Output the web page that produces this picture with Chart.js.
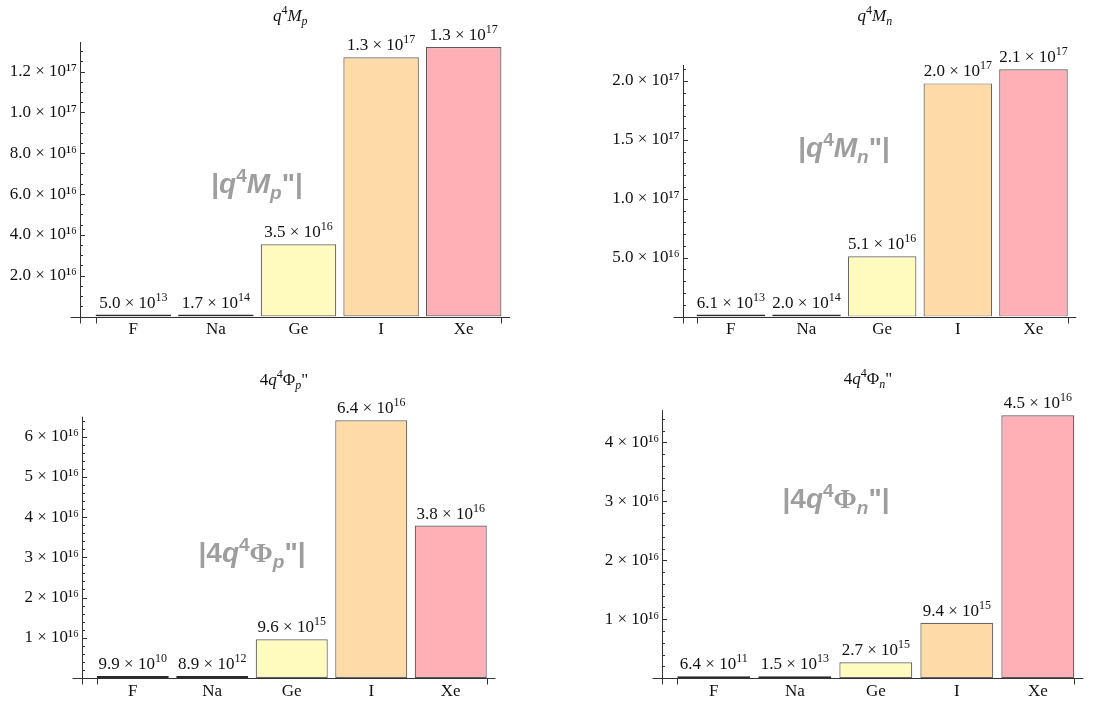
<!DOCTYPE html>
<html>
<head>
<meta charset="utf-8">
<script src="https://cdn.jsdelivr.net/npm/chart.js@4.4.1/dist/chart.umd.min.js"></script>
<style>
  body { margin: 0; background: #fff; width: 1097px; height: 705px; position: relative; overflow: hidden; }
  canvas { position: absolute; }
</style>
</head>
<body>
<canvas id="c1" width="548" height="345" style="left:0;top:0"></canvas>
<canvas id="c2" width="549" height="345" style="left:548px;top:0"></canvas>
<canvas id="c3" width="548" height="360" style="left:0;top:345px"></canvas>
<canvas id="c4" width="549" height="360" style="left:548px;top:345px"></canvas>
<script>
// data
const elements = ['F', 'Na', 'Ge', 'I', 'Xe'];

const mpValues   = [5.0e13, 1.7e14, 3.54e16, 1.27e17, 1.32e17];
const mnValues   = [6.1e13, 2.0e14, 5.12e16, 1.98e17, 2.10e17];
const phipValues = [9.9e10, 8.9e12, 9.6e15, 6.41e16, 3.79e16];
const phinValues = [6.4e11, 1.5e13, 2.7e15, 9.4e15, 4.46e16];

const mpTicks = [2e16, 4e16, 6e16, 8e16, 1.0e17, 1.2e17];
const mpTickLabels = ['2.0 × 10¹⁶', '4.0 × 10¹⁶', '6.0 × 10¹⁶', '8.0 × 10¹⁶', '1.0 × 10¹⁷', '1.2 × 10¹⁷'];
const mnTicks = [5e16, 1.0e17, 1.5e17, 2.0e17];
const mnTickLabels = ['5.0 × 10¹⁶', '1.0 × 10¹⁷', '1.5 × 10¹⁷', '2.0 × 10¹⁷'];
const phipTicks = [1e16, 2e16, 3e16, 4e16, 5e16, 6e16];
const phipTickLabels = ['1 × 10¹⁶', '2 × 10¹⁶', '3 × 10¹⁶', '4 × 10¹⁶', '5 × 10¹⁶', '6 × 10¹⁶'];
const phinTicks = [1e16, 2e16, 3e16, 4e16];
const phinTickLabels = ['1 × 10¹⁶', '2 × 10¹⁶', '3 × 10¹⁶', '4 × 10¹⁶'];

const barColors = ['rgb(190,214,240)', 'rgb(200,232,200)', 'rgb(255,251,190)', 'rgb(255,219,168)', 'rgb(255,176,182)'];
const barEdges = ['#2a2a2a', '#2a2a2a', '#666', '#666', '#5a5a5a'];

const SERIF = '"Liberation Serif", "DejaVu Serif", serif';
const SANS = '"Liberation Sans", Arial, sans-serif';

// rich text pieces
function piece(t, size, o) {
  o = o || {};
  const fam = o.serif === false ? SANS : SERIF;
  return { t: t, font: (o.i ? 'italic ' : '') + (o.b ? 'bold ' : '') + size + 'px ' + fam, dy: o.dy || 0 };
}

function drawRich(ctx, parts, cx, baseY) {
  let w = 0;
  parts.forEach(p => { ctx.font = p.font; p.w = ctx.measureText(p.t).width; w += p.w; });
  let x = cx - w / 2;
  ctx.textAlign = 'left';
  ctx.textBaseline = 'alphabetic';
  parts.forEach(p => { ctx.font = p.font; ctx.fillText(p.t, x, baseY + p.dy); x += p.w; });
}

function sciParts(v) {
  const s = v.toExponential(1).split('e');
  return [piece(s[0] + ' × 10', 17), piece(String(+s[1]), 12, { dy: -7 })];
}

const sup = (t) => piece(t, 12, { dy: -7 });
const sub = (t) => piece(t, 12, { i: true, dy: 4 });
const wm = (t, o) => piece(t, o && o.small ? 19 : 28, { b: true, i: o && o.i, serif: o && o.serif ? true : false, dy: (o && o.dy) || 0 });

const panels = [
  { id: 'c1', values: mpValues, ticks: mpTicks, labels: mpTickLabels, minor: 0.5e16, max: 13.45e16,
    pad: { left: 0, right: 43, top: 42, bottom: 0 }, yWidth: 92, xHeight: 28.5, axisGap: 12, barPct: 0.914,
    title: [piece('q', 17, { i: true }), sup('4'), piece('M', 17, { i: true }), sub('p')], titleY: 21,
    mark: [wm('|'), wm('q', { i: true }), wm('4', { small: true, dy: -11 }), wm('M', { i: true }), wm('p', { small: true, i: true, dy: 6 }), wm('"'), wm('|')],
    markX: 257, markY: 193 },
  { id: 'c2', values: mnValues, ticks: mnTicks, labels: mnTickLabels, minor: 1e16, max: 21.36e16,
    pad: { left: 0, right: 25.7, top: 65, bottom: 0 }, yWidth: 145, xHeight: 28.4, axisGap: 10.4, barPct: 0.906,
    title: [piece('q', 17, { i: true }), sup('4'), piece('M', 17, { i: true }), sub('n')], titleY: 21,
    mark: [wm('|'), wm('q', { i: true }), wm('4', { small: true, dy: -11 }), wm('M', { i: true }), wm('n', { small: true, i: true, dy: 6 }), wm('"'), wm('|')],
    markX: 296, markY: 157 },
  { id: 'c3', values: phipValues, ticks: phipTicks, labels: phipTickLabels, minor: 0.2e16, max: 6.5e16,
    pad: { left: 0, right: 57.5, top: 71.7, bottom: 0 }, yWidth: 93, xHeight: 27.1, axisGap: 11, barPct: 0.906,
    title: [piece('4', 17), piece('q', 17, { i: true }), sup('4'), piece('Φ', 17), sub('p'), piece('"', 17)], titleY: 40,
    mark: [wm('|4'), wm('q', { i: true }), wm('4', { small: true, dy: -11 }), wm('Φ', { serif: true }), wm('p', { small: true, i: true, dy: 6 }), wm('"'), wm('|')],
    markX: 252, markY: 217 },
  { id: 'c4', values: phinValues, ticks: phinTicks, labels: phinTickLabels, minor: 0.2e16, max: 4.55e16,
    pad: { left: 0, right: 18.7, top: 65, bottom: 0 }, yWidth: 125.3, xHeight: 26.8, axisGap: 11, barPct: 0.90,
    title: [piece('4', 17), piece('q', 17, { i: true }), sup('4'), piece('Φ', 17), sub('n'), piece('"', 17)], titleY: 38.5,
    mark: [wm('|4'), wm('q', { i: true }), wm('4', { small: true, dy: -11 }), wm('Φ', { serif: true }), wm('n', { small: true, i: true, dy: 6 }), wm('"'), wm('|')],
    markX: 288, markY: 163 }
];

// axes, ticks, value labels, title and the grey watermark
const decorPlugin = {
  id: 'decor',
  afterDatasetsDraw(chart, args, p) {
    const ctx = chart.ctx;
    const a = chart.chartArea;
    const y = chart.scales.y;
    const axisX = Math.round(a.left - p.axisGap) + 0.5;
    const zeroY = Math.round(y.getPixelForValue(0)) + 0.5;
    const bars = chart.getDatasetMeta(0).data;
    const first = bars[0].getProps(['x', 'width'], true);
    const last = bars[bars.length - 1].getProps(['x', 'width'], true);

    ctx.save();
    ctx.strokeStyle = '#333';
    ctx.lineWidth = 1;
    ctx.beginPath();
    ctx.moveTo(axisX - 10, zeroY);
    ctx.lineTo(a.right + 5, zeroY);
    ctx.moveTo(axisX, a.top);
    ctx.lineTo(axisX, zeroY + 6);
    y.ticks.forEach(t => {
      const py = Math.round(y.getPixelForValue(t.value)) + 0.5;
      if (t.value <= 0) return;
      ctx.moveTo(axisX, py);
      ctx.lineTo(axisX + (t.big ? 4.5 : 2.5), py);
    });
    const lx = Math.round(first.x - first.width / 2) + 0.5;
    const rx = Math.round(last.x + last.width / 2) + 0.5;
    ctx.moveTo(lx, zeroY); ctx.lineTo(lx, zeroY + 6);
    ctx.moveTo(rx, zeroY); ctx.lineTo(rx, zeroY + 6);
    ctx.stroke();

    ctx.fillStyle = '#111';
    const vals = chart.data.datasets[0].data;
    bars.forEach((b, i) => {
      const pr = b.getProps(['x', 'y'], true);
      drawRich(ctx, sciParts(vals[i]), pr.x, Math.min(pr.y, zeroY) - 7);
    });

    drawRich(ctx, p.title, (axisX - 10 + a.right + 5) / 2, p.titleY);

    ctx.fillStyle = 'rgb(158,158,158)';
    drawRich(ctx, p.mark, p.markX, p.markY);
    ctx.restore();
  }
};

panels.forEach(pn => {
  const ctx = document.getElementById(pn.id).getContext('2d');
  new Chart(ctx, {
    type: 'bar',
    data: {
      labels: elements,
      datasets: [{
        data: pn.values,
        backgroundColor: barColors,
        borderColor: barEdges,
        borderWidth: 1.2,
        borderSkipped: false,
        minBarLength: 2,
        barPercentage: pn.barPct,
        categoryPercentage: 1
      }]
    },
    options: {
      responsive: false,
      animation: false,
      layout: { padding: pn.pad },
      plugins: {
        legend: { display: false },
        tooltip: { enabled: false },
        decor: { axisGap: pn.axisGap, title: pn.title, titleY: pn.titleY, mark: pn.mark, markX: pn.markX, markY: pn.markY }
      },
      scales: {
        x: {
          type: 'category',
          offset: true,
          grid: { display: false, drawTicks: false },
          border: { display: false },
          ticks: { padding: 3, color: '#111', font: { family: SERIF, size: 17 }, maxRotation: 0 },
          afterFit: (s) => { s.height = pn.xHeight; }
        },
        y: {
          min: 0,
          max: pn.max,
          grid: { display: false, drawTicks: false },
          border: { display: false },
          ticks: {
            autoSkip: false,
            padding: pn.axisGap + 3,
            color: '#111',
            font: { family: SERIF, size: 17 },
            callback: (v) => {
              const k = pn.ticks.findIndex(t => Math.abs(t - v) < pn.minor * 0.01);
              return k >= 0 ? pn.labels[k] : '';
            }
          },
          afterBuildTicks: (s) => {
            const list = [{ value: 0 }];
            for (let k = 1; k * pn.minor <= pn.max; k++) {
              const v = k * pn.minor;
              list.push({ value: v, big: pn.ticks.some(t => Math.abs(t - v) < pn.minor * 0.01) });
            }
            s.ticks = list;
          },
          afterFit: (s) => { s.width = pn.yWidth; }
        }
      }
    },
    plugins: [decorPlugin]
  });
});
</script>
</body>
</html>
